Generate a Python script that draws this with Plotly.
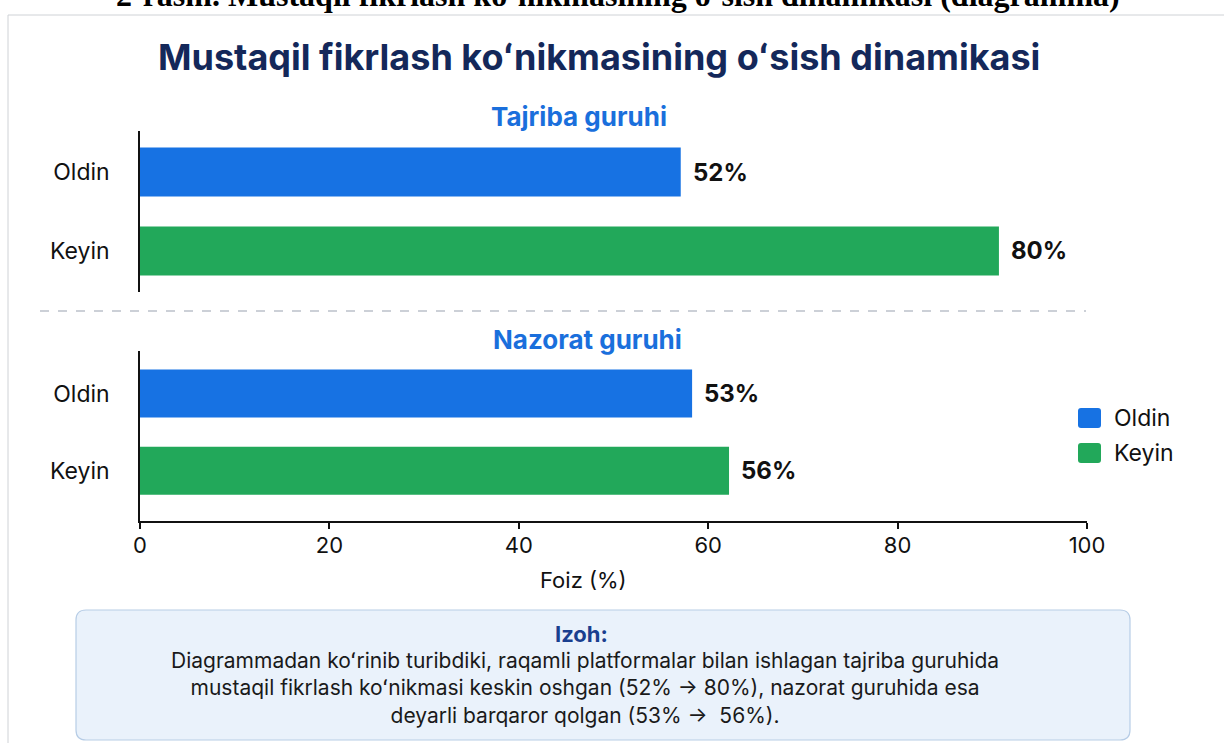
import plotly.graph_objects as go

W, H = 1224, 743

categories = ["Oldin", "Keyin"]
# bar lengths as drawn in the reference (on the 0-100 axis)
tajriba_values = [57.1, 90.7]
nazorat_values = [58.3, 62.2]
# value labels printed next to the bars
tajriba_labels = ["52%", "80%"]
nazorat_labels = ["53%", "56%"]
x_ticks = [0, 20, 40, 60, 80, 100]
legend_names = ["Oldin", "Keyin"]

BLUE = "#1772e3"
GREEN = "#22a85a"
NAVY = "#14285a"
TITLE_BLUE = "#1a6fdc"
FONT = "Inter"

def px(x):
    return x / W

def py(y):
    return 1 - y / H

fig = go.Figure()

ann = []
for vals, labels, xa, ya in [
    (tajriba_values, tajriba_labels, "x", "y"),
    (nazorat_values, nazorat_labels, "x2", "y2"),
]:
    fig.add_trace(go.Bar(
        y=categories, x=vals, orientation="h",
        marker=dict(color=[BLUE, GREEN], line=dict(width=0)),
        width=0.62,
        xaxis=xa, yaxis=ya, showlegend=False, hoverinfo="skip",
    ))
    for v, c, t in zip(vals, categories, labels):
        ann.append(dict(text=f"<b>{t}</b>", x=v, y=c, xref=xa, yref=ya,
                        xanchor="left", yanchor="middle", xshift=10, showarrow=False,
                        font=dict(family=FONT, size=24, color="#111111")))

xdom = [px(140), px(1087)]
common_y = dict(type="category", showline=True, linecolor="#111111", linewidth=1.5,
                showgrid=False, ticks="", automargin=False,
                tickfont=dict(size=23, family=FONT, color="#111111"), ticklabelstandoff=24)
fig.update_layout(
    width=W, height=H,
    margin=dict(l=0, r=0, t=0, b=0),
    paper_bgcolor="white", plot_bgcolor="white",
    font=dict(family=FONT, color="#111111"),
    showlegend=False,
    xaxis=dict(domain=xdom, range=[0, 100], showticklabels=False, showgrid=False,
               zeroline=False, showline=False, ticks="", anchor="y", automargin=False),
    yaxis=dict(domain=[py(292), py(131)], range=[1.52, -0.52], anchor="x", **common_y),
    xaxis2=dict(domain=xdom, range=[0, 100], tickvals=x_ticks, showgrid=False,
                zeroline=False, showline=True, linecolor="#111111", linewidth=1.5,
                ticks="outside", ticklen=6, tickcolor="#111111", tickwidth=1.5,
                tickfont=dict(size=22, family=FONT, color="#111111"), ticklabelstandoff=-2,
                anchor="y2", automargin=False),
    yaxis2=dict(domain=[py(521), py(351)], range=[1.65, -0.55], anchor="x2", **common_y),
)

shapes = [
    # panel border
    dict(type="rect", xref="paper", yref="paper", x0=px(8), x1=px(1240), y0=py(760), y1=py(15),
         line=dict(color="#cfd2d6", width=1), fillcolor="rgba(0,0,0,0)", layer="below"),
    # dashed separator
    dict(type="line", xref="paper", yref="paper", x0=px(40), x1=px(1086), y0=py(311), y1=py(311),
         line=dict(color="#bcc1ca", width=1.5, dash="dash")),
]

def P(x, y):
    return f"{px(x)},{py(y)}"

def rrect(x0, y0, x1, y1, r):
    return (f"M {P(x0+r, y0)} L {P(x1-r, y0)} Q {P(x1, y0)} {P(x1, y0+r)} "
            f"L {P(x1, y1-r)} Q {P(x1, y1)} {P(x1-r, y1)} L {P(x0+r, y1)} "
            f"Q {P(x0, y1)} {P(x0, y1-r)} L {P(x0, y0+r)} Q {P(x0, y0)} {P(x0+r, y0)} Z")

# note box
shapes.append(dict(type="path", xref="paper", yref="paper", path=rrect(76, 610, 1130, 740, 10),
                   fillcolor="#eaf2fb", line=dict(color="#b7cde6", width=1.2), layer="below"))

# legend (manual, larger swatches)
for i, (name, col) in enumerate(zip(legend_names, [BLUE, GREEN])):
    yc = 418 + 35 * i
    shapes.append(dict(type="path", xref="paper", yref="paper",
                       path=rrect(1078, yc - 10, 1101, yc + 10, 3),
                       fillcolor=col, line=dict(width=0)))
    ann.append(dict(text=name, x=px(1112), y=py(yc), xref="paper", yref="paper",
                    xanchor="left", yanchor="middle", showarrow=False,
                    font=dict(family=FONT, size=23, color="#111111")))
fig.update_layout(shapes=shapes)

texts = [
    dict(text="<b>2-rasm. Mustaqil fikrlash koʻnikmasining oʻsish dinamikasi (diagramma)</b>",
         x=px(618), y=py(-5), font=dict(family="Liberation Serif", size=32, color="#000000")),
    dict(text="<b>Mustaqil fikrlash koʻnikmasining oʻsish dinamikasi</b>",
         x=px(599), y=py(57), font=dict(family=FONT, size=36, color=NAVY)),
    dict(text="<b>Tajriba guruhi</b>", x=px(579), y=py(117),
         font=dict(family=FONT, size=26, color=TITLE_BLUE)),
    dict(text="<b>Nazorat guruhi</b>", x=px(587), y=py(339),
         font=dict(family=FONT, size=26, color=TITLE_BLUE)),
    dict(text="Foiz (%)", x=px(583), y=py(580),
         font=dict(family=FONT, size=22, color="#111111")),
    dict(text="<b>Izoh:</b>", x=px(581), y=py(634),
         font=dict(family=FONT, size=22, color="#1a3f8f")),
    dict(text="Diagrammadan koʻrinib turibdiki, raqamli platformalar bilan ishlagan tajriba guruhida<br>"
              "mustaqil fikrlash koʻnikmasi keskin oshgan (52% → 80%), nazorat guruhida esa<br>"
              "deyarli barqaror qolgan (53% →  56%).",
         x=px(585), y=py(688), align="center",
         font=dict(family=FONT, size=21, color="#1a1a1a")),
]
for a in texts:
    a.update(xref="paper", yref="paper", xanchor="center", yanchor="middle", showarrow=False)
ann.extend(texts)
fig.update_layout(annotations=ann)

fig.write_html("out.html")
